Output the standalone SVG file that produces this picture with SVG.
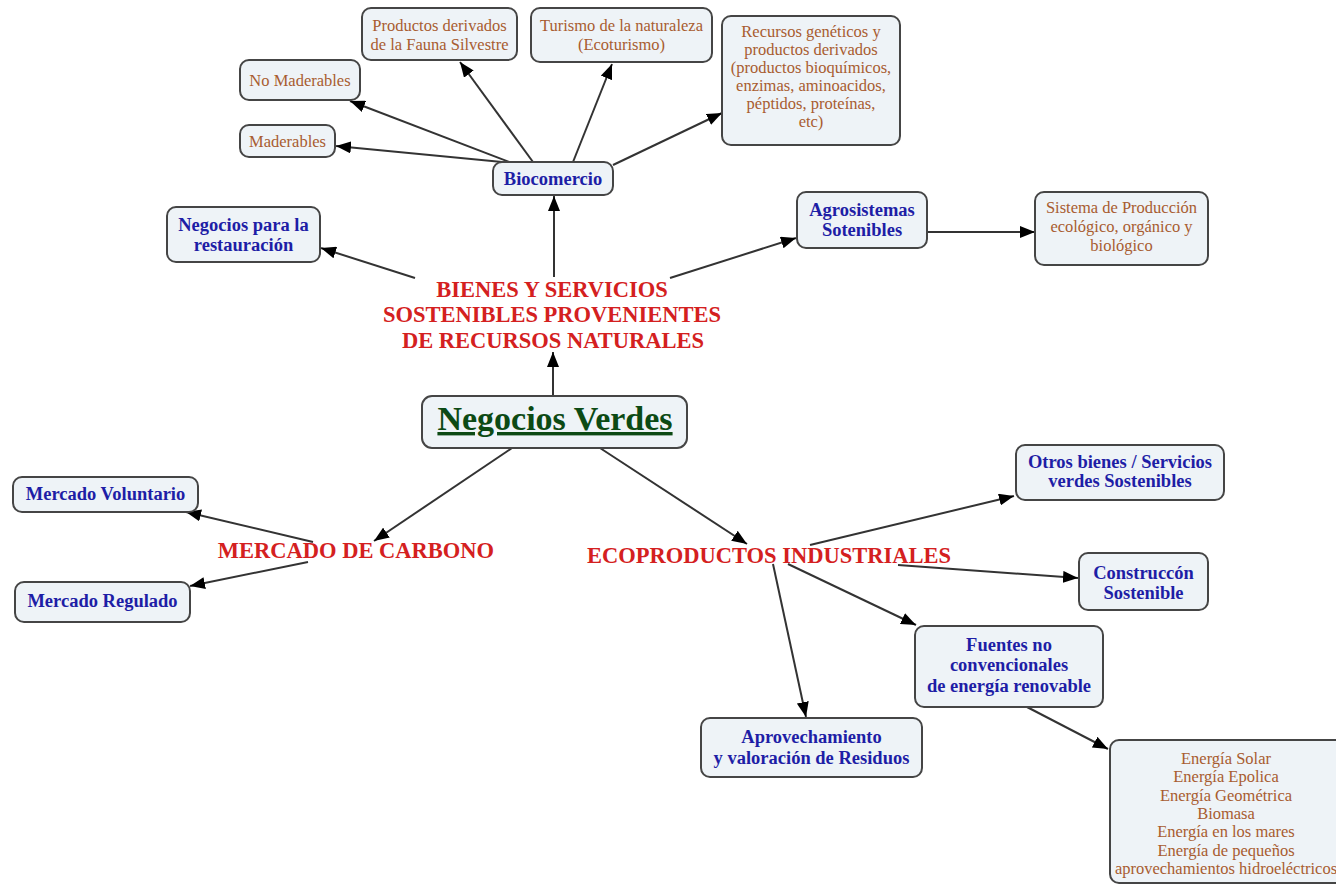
<svg xmlns="http://www.w3.org/2000/svg" width="1336" height="885" viewBox="0 0 1336 885">
<style>
.box{fill:#eef3f7;stroke:#454545;stroke-width:2}
.o{font-family:"Liberation Serif","Times New Roman",serif;font-size:16.5px;fill:#a85c30;text-anchor:middle}
.b{font-family:"Liberation Serif","Times New Roman",serif;font-size:18.5px;font-weight:bold;fill:#1e1ea6;text-anchor:middle}
.r{font-family:"Liberation Serif","Times New Roman",serif;font-size:22.5px;font-weight:bold;fill:#d42020;text-anchor:middle}
.g{font-family:"Liberation Serif","Times New Roman",serif;font-size:34px;font-weight:bold;fill:#0c4a14;text-anchor:middle;text-decoration:underline}
.c line{stroke:#333;stroke-width:2;marker-end:url(#ah)}
</style>
<defs>
<marker id="ah" markerUnits="userSpaceOnUse" markerWidth="16" markerHeight="12" refX="15" refY="6" orient="auto">
<path d="M0,0 L15,6 L0,12 z" fill="#000"/>
</marker>
</defs>
<rect width="1336" height="885" fill="#fff"/>
<g class="c" id="connectors">
<line x1="553" y1="396" x2="553" y2="352"/>
<line x1="554" y1="277" x2="554" y2="196"/>
<line x1="415" y1="278" x2="321" y2="248"/>
<line x1="670" y1="278" x2="796" y2="238"/>
<line x1="927" y1="232" x2="1035" y2="232"/>
<line x1="513" y1="163" x2="336" y2="146"/>
<line x1="512" y1="163" x2="350" y2="101"/>
<line x1="533" y1="162" x2="460" y2="62"/>
<line x1="573" y1="162" x2="612" y2="64"/>
<line x1="613" y1="165" x2="722" y2="113"/>
<line x1="512" y1="448" x2="374" y2="541"/>
<line x1="313" y1="542" x2="186" y2="512"/>
<line x1="308" y1="562" x2="190" y2="586"/>
<line x1="600" y1="448" x2="747" y2="544"/>
<line x1="810" y1="545" x2="1014" y2="496"/>
<line x1="898" y1="565" x2="1078" y2="578"/>
<line x1="788" y1="564" x2="916" y2="625"/>
<line x1="773" y1="564" x2="806" y2="717"/>
<line x1="1027" y1="707" x2="1108" y2="749"/>
</g>
<g id="productos-fauna"><rect class="box" x="362" y="8" width="155" height="52" rx="9"/><text class="o" x="439.5" y="31">Productos derivados</text><text class="o" x="439.5" y="50">de la Fauna Silvestre</text></g>
<g id="turismo"><rect class="box" x="531" y="8" width="181" height="54" rx="9"/><text class="o" x="621.5" y="31">Turismo de la naturaleza</text><text class="o" x="621.5" y="50">(Ecoturismo)</text></g>
<g id="recursos"><rect class="box" x="722" y="16" width="178" height="129" rx="9"/>
<text class="o" x="811" y="37">Recursos genéticos y</text><text class="o" x="811" y="55">productos derivados</text><text class="o" x="811" y="73">(productos bioquímicos,</text><text class="o" x="811" y="91">enzimas, aminoacidos,</text><text class="o" x="811" y="109">péptidos, proteínas,</text><text class="o" x="811" y="127">etc)</text></g>
<g id="no-maderables"><rect class="box" x="240" y="60" width="120" height="40" rx="9"/><text class="o" x="300" y="86">No Maderables</text></g>
<g id="maderables"><rect class="box" x="240" y="125" width="95" height="32" rx="9"/><text class="o" x="287.5" y="147">Maderables</text></g>
<g id="biocomercio"><rect class="box" x="493" y="162" width="120" height="33" rx="9"/><text class="b" x="553" y="185">Biocomercio</text></g>
<g id="restauracion"><rect class="box" x="167" y="207" width="153" height="55" rx="9"/><text class="b" x="243.5" y="231">Negocios para la</text><text class="b" x="243.5" y="251">restauración</text></g>
<g id="agrosistemas"><rect class="box" x="797" y="192" width="130" height="56" rx="9"/><text class="b" x="862" y="216">Agrosistemas</text><text class="b" x="862" y="236">Sotenibles</text></g>
<g id="sistema-produccion"><rect class="box" x="1035" y="192" width="173" height="73" rx="9"/><text class="o" x="1121.5" y="213">Sistema de Producción</text><text class="o" x="1121.5" y="232">ecológico, orgánico y</text><text class="o" x="1121.5" y="251">biológico</text></g>
<g id="bienes"><text class="r" x="552" y="297">BIENES Y SERVICIOS</text><text class="r" x="552" y="322">SOSTENIBLES PROVENIENTES</text><text class="r" x="553" y="348">DE RECURSOS NATURALES</text></g>
<g id="negocios-verdes"><rect class="box" x="422" y="396" width="265" height="52" rx="10"/><text class="g" x="555" y="430">Negocios Verdes</text></g>
<g id="mercado-voluntario"><rect class="box" x="13" y="477" width="185" height="35" rx="9"/><text class="b" x="105.5" y="500">Mercado Voluntario</text></g>
<g id="mercado-regulado"><rect class="box" x="15" y="582" width="175" height="40" rx="9"/><text class="b" x="102.5" y="607">Mercado Regulado</text></g>
<g id="mercado-carbono"><text class="r" x="356" y="558">MERCADO DE CARBONO</text></g>
<g id="ecoproductos"><text class="r" x="769" y="563">ECOPRODUCTOS INDUSTRIALES</text></g>
<g id="otros-bienes"><rect class="box" x="1016" y="445" width="208" height="55" rx="9"/><text class="b" x="1120" y="468">Otros bienes / Servicios</text><text class="b" x="1120" y="487">verdes Sostenibles</text></g>
<g id="construccion"><rect class="box" x="1079" y="553" width="129" height="57" rx="9"/><text class="b" x="1143.5" y="579">Construccón</text><text class="b" x="1143.5" y="599">Sostenible</text></g>
<g id="fuentes"><rect class="box" x="915" y="626" width="188" height="81" rx="9"/><text class="b" x="1009" y="651">Fuentes no</text><text class="b" x="1009" y="671">convencionales</text><text class="b" x="1009" y="692">de energía renovable</text></g>
<g id="aprovechamiento"><rect class="box" x="701" y="718" width="221" height="59" rx="9"/><text class="b" x="811.5" y="743">Aprovechamiento</text><text class="b" x="811.5" y="764">y valoración de Residuos</text></g>
<g id="energias"><rect class="box" x="1110" y="740" width="240" height="143" rx="9"/>
<text class="o" x="1226" y="764">Energía Solar</text><text class="o" x="1226" y="782">Energía Epolica</text><text class="o" x="1226" y="801">Energía Geométrica</text><text class="o" x="1226" y="819">Biomasa</text><text class="o" x="1226" y="837">Energía en los mares</text><text class="o" x="1226" y="856">Energía de pequeños</text><text class="o" x="1226" y="874">aprovechamientos hidroeléctricos</text></g>
</svg>
